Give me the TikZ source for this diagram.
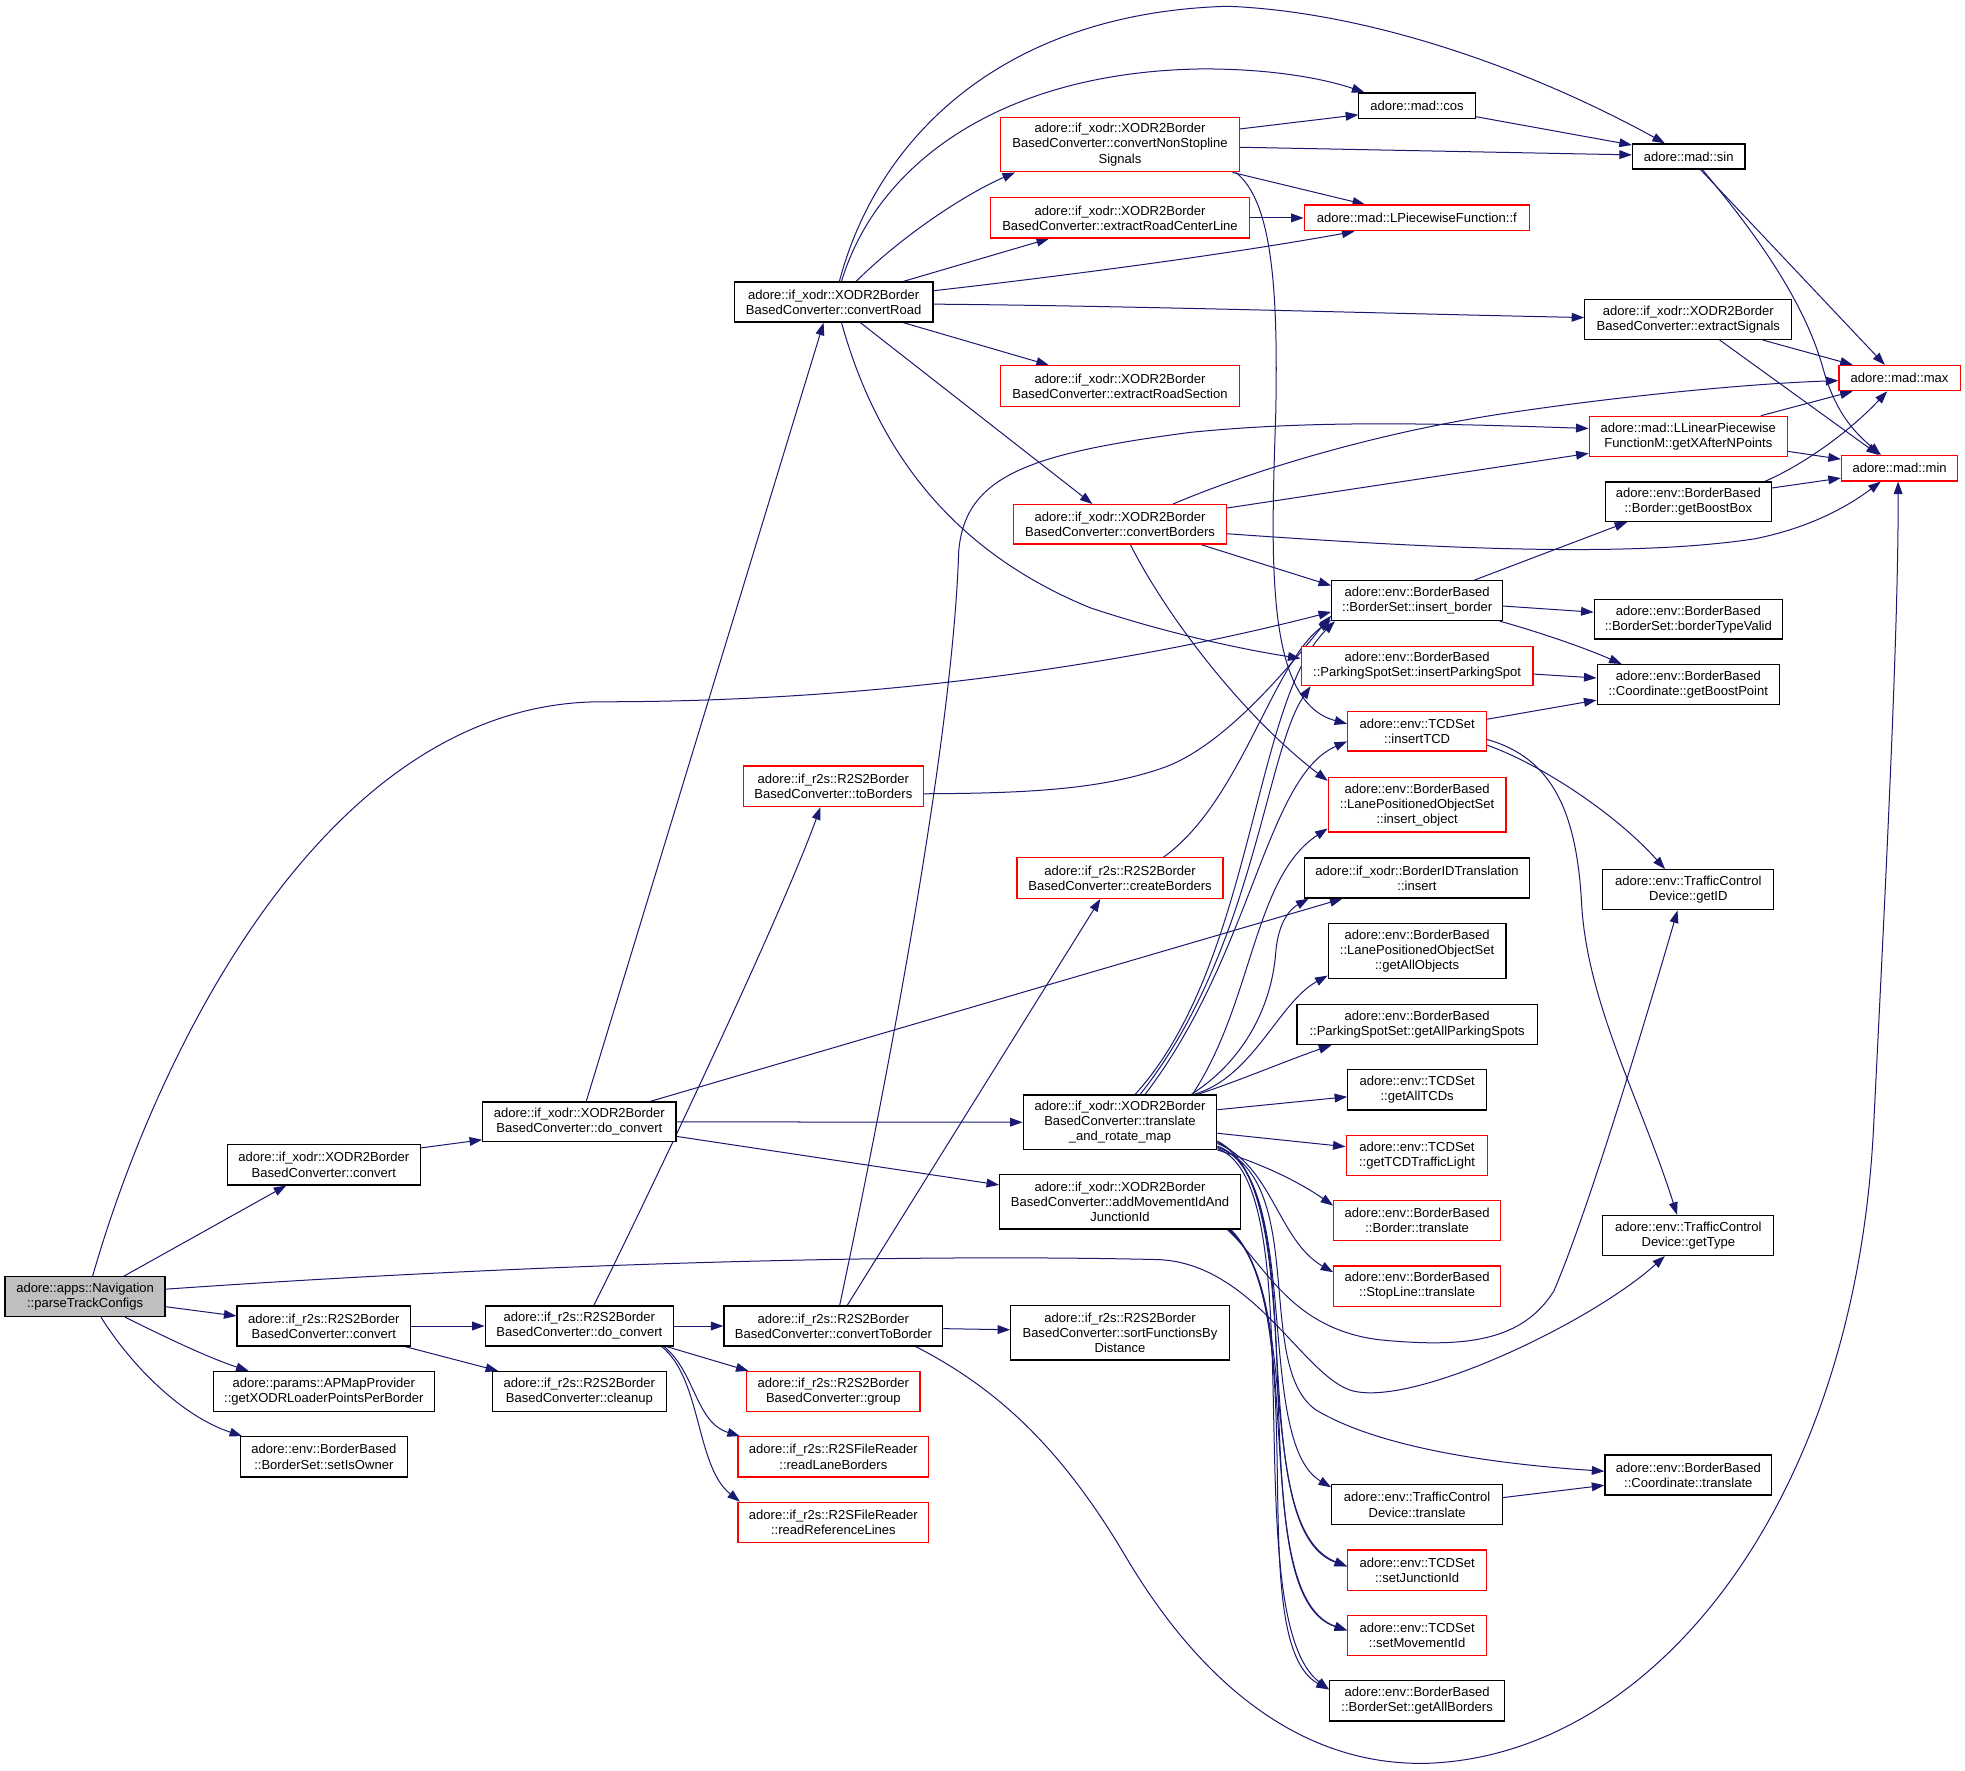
\documentclass[tikz,border=0pt]{standalone}
\usepackage{fontspec}
\setmainfont{Liberation Sans}
\usetikzlibrary{arrows.meta,calc}
\definecolor{edgecol}{HTML}{191970}
\definecolor{nodegray}{HTML}{BFBFBF}
\newcommand\ndfont{\fontsize{10.4}{12}\selectfont}
\pgfdeclarelayer{fg}
\pgfsetlayers{main,fg}
\tikzset{
  nd/.style={draw=black, line width=1pt, fill=white, inner sep=0pt, align=center, font=\ndfont},
  rd/.style={nd, draw=red},
  gd/.style={nd, fill=nodegray},
  edg/.style={draw=edgecol, line width=0.8pt, -{Triangle[length=10pt,width=7pt]}},
}
\begin{document}
\begin{tikzpicture}[x=1pt,y=-1pt]
\fill[white] (0,0) rectangle (1568,1412.4);
\useasboundingbox (0,0) rectangle (1568,1412.4);
\begin{pgfonlayer}{fg}
\node[gd, minimum width=127.7pt, minimum height=31.8pt] (P) at (67.9,1034.7) {adore::apps::Navigation\\::parseTrackConfigs};
\node[nd, minimum width=153.8pt, minimum height=32pt] (xconv) at (258.4,929.5) {adore::if\_xodr::XODR2Border\\BasedConverter::convert};
\node[nd, minimum width=154.2pt, minimum height=31.7pt] (xdo) at (462.3,895.2) {adore::if\_xodr::XODR2Border\\BasedConverter::do\_convert};
\node[nd, minimum width=158.5pt, minimum height=32pt] (road) at (665.2,241) {adore::if\_xodr::XODR2Border\\BasedConverter::convertRoad};
\node[rd, minimum width=190.5pt, minimum height=43.4pt] (cns) at (893.7,115.4) {adore::if\_xodr::XODR2Border\\BasedConverter::convertNonStopline\\Signals};
\node[rd, minimum width=206.2pt, minimum height=32.1pt] (ercl) at (893.7,173.9) {adore::if\_xodr::XODR2Border\\BasedConverter::extractRoadCenterLine};
\node[rd, minimum width=190.5pt, minimum height=32.3pt] (ers) at (893.7,308) {adore::if\_xodr::XODR2Border\\BasedConverter::extractRoadSection};
\node[rd, minimum width=169.6pt, minimum height=31.4pt] (cb) at (893.7,418.4) {adore::if\_xodr::XODR2Border\\BasedConverter::convertBorders};
\node[nd, minimum width=92.8pt, minimum height=20.4pt] (cos) at (1130.7,84.4) {adore::mad::cos};
\node[nd, minimum width=89.7pt, minimum height=20.1pt] (sin) at (1347.5,124.9) {adore::mad::sin};
\node[rd, minimum width=179.7pt, minimum height=20.5pt] (f) at (1130.6,173.9) {adore::mad::LPiecewiseFunction::f};
\node[nd, minimum width=165.1pt, minimum height=31.8pt] (es) at (1347.2,254.9) {adore::if\_xodr::XODR2Border\\BasedConverter::extractSignals};
\node[rd, minimum width=96.8pt, minimum height=20.1pt] (max) at (1515.8,301.7) {adore::mad::max};
\node[rd, minimum width=158.1pt, minimum height=32pt] (gx) at (1347.2,348.2) {adore::mad::LLinearPiecewise\\FunctionM::getXAfterNPoints};
\node[rd, minimum width=92.8pt, minimum height=20.2pt] (min) at (1515.8,373.7) {adore::mad::min};
\node[nd, minimum width=132.6pt, minimum height=31.4pt] (gbb) at (1347.2,400.4) {adore::env::BorderBased\\::Border::getBoostBox};
\node[nd, minimum width=136.3pt, minimum height=31.8pt] (ib) at (1130.8,479.3) {adore::env::BorderBased\\::BorderSet::insert\_border};
\node[nd, minimum width=150.2pt, minimum height=31.5pt] (btv) at (1347.2,494.2) {adore::env::BorderBased\\::BorderSet::borderTypeValid};
\node[rd, minimum width=185.1pt, minimum height=31.4pt] (ips) at (1130.8,531.4) {adore::env::BorderBased\\::ParkingSpotSet::insertParkingSpot};
\node[nd, minimum width=145.5pt, minimum height=32.1pt] (gbp) at (1347.2,546.4) {adore::env::BorderBased\\::Coordinate::getBoostPoint};
\node[rd, minimum width=110.7pt, minimum height=31.4pt] (itcd) at (1130.8,583.6) {adore::env::TCDSet\\::insertTCD};
\node[rd, minimum width=141.8pt, minimum height=43.4pt] (io) at (1130.8,642.1) {adore::env::BorderBased\\::LanePositionedObjectSet\\::insert\_object};
\node[rd, minimum width=144pt, minimum height=32.4pt] (tob) at (665,627.4) {adore::if\_r2s::R2S2Border\\BasedConverter::toBorders};
\node[rd, minimum width=164.3pt, minimum height=32.4pt] (cbr) at (893.7,700.7) {adore::if\_r2s::R2S2Border\\BasedConverter::createBorders};
\node[nd, minimum width=180pt, minimum height=32.1pt] (idt) at (1130.7,700.6) {adore::if\_xodr::BorderIDTranslation\\::insert};
\node[nd, minimum width=136.4pt, minimum height=32pt] (gid) at (1347.2,710) {adore::env::TrafficControl\\Device::getID};
\node[nd, minimum width=141.8pt, minimum height=44pt] (gao) at (1130.8,759) {adore::env::BorderBased\\::LanePositionedObjectSet\\::getAllObjects};
\node[nd, minimum width=191.8pt, minimum height=32.1pt] (gaps) at (1130.8,817.5) {adore::env::BorderBased\\::ParkingSpotSet::getAllParkingSpots};
\node[nd, minimum width=110.7pt, minimum height=32.1pt] (gat) at (1130.8,869.7) {adore::env::TCDSet\\::getAllTCDs};
\node[nd, minimum width=154.5pt, minimum height=43.3pt] (T) at (893.7,895.5) {adore::if\_xodr::XODR2Border\\BasedConverter::translate\\\_and\_rotate\_map};
\node[rd, minimum width=113pt, minimum height=32pt] (gtl) at (1130.7,921.9) {adore::env::TCDSet\\::getTCDTrafficLight};
\node[nd, minimum width=191.9pt, minimum height=43.3pt] (am) at (893.7,959) {adore::if\_xodr::XODR2Border\\BasedConverter::addMovementIdAnd\\JunctionId};
\node[rd, minimum width=133pt, minimum height=31.9pt] (btr) at (1130.8,974) {adore::env::BorderBased\\::Border::translate};
\node[nd, minimum width=136.4pt, minimum height=31.9pt] (gty) at (1347.2,985.8) {adore::env::TrafficControl\\Device::getType};
\node[rd, minimum width=133pt, minimum height=32.1pt] (sltr) at (1130.8,1026.2) {adore::env::BorderBased\\::StopLine::translate};
\node[nd, minimum width=138.4pt, minimum height=31.8pt] (rconv) at (258.4,1058.1) {adore::if\_r2s::R2S2Border\\BasedConverter::convert};
\node[nd, minimum width=150.2pt, minimum height=31.8pt] (rdo) at (462.3,1058.1) {adore::if\_r2s::R2S2Border\\BasedConverter::do\_convert};
\node[nd, minimum width=174.7pt, minimum height=31.8pt] (ctb) at (665,1058.1) {adore::if\_r2s::R2S2Border\\BasedConverter::convertToBorder};
\node[nd, minimum width=174.3pt, minimum height=43.5pt] (sfd) at (893.7,1063.4) {adore::if\_r2s::R2S2Border\\BasedConverter::sortFunctionsBy\\Distance};
\node[nd, minimum width=176.4pt, minimum height=31.9pt] (xlp) at (258.4,1110.4) {adore::params::APMapProvider\\::getXODRLoaderPointsPerBorder};
\node[nd, minimum width=138.5pt, minimum height=31.9pt] (cln) at (462.3,1110.4) {adore::if\_r2s::R2S2Border\\BasedConverter::cleanup};
\node[rd, minimum width=138.4pt, minimum height=31.9pt] (grp) at (665,1110.4) {adore::if\_r2s::R2S2Border\\BasedConverter::group};
\node[nd, minimum width=133.4pt, minimum height=32.1pt] (sio) at (258.4,1162.5) {adore::env::BorderBased\\::BorderSet::setIsOwner};
\node[rd, minimum width=152.2pt, minimum height=32.1pt] (rlb) at (665,1162.5) {adore::if\_r2s::R2SFileReader\\::readLaneBorders};
\node[rd, minimum width=152.2pt, minimum height=32.1pt] (rrl) at (665,1214.8) {adore::if\_r2s::R2SFileReader\\::readReferenceLines};
\node[nd, minimum width=133pt, minimum height=31.9pt] (ctr) at (1347.2,1177) {adore::env::BorderBased\\::Coordinate::translate};
\node[nd, minimum width=136.3pt, minimum height=31.9pt] (tcdtr) at (1130.8,1200.8) {adore::env::TrafficControl\\Device::translate};
\node[rd, minimum width=110.7pt, minimum height=32.1pt] (sji) at (1130.8,1252.9) {adore::env::TCDSet\\::setJunctionId};
\node[rd, minimum width=110.7pt, minimum height=32pt] (smi) at (1130.8,1305) {adore::env::TCDSet\\::setMovementId};
\node[nd, minimum width=139.8pt, minimum height=32.2pt] (gab) at (1130.8,1357.1) {adore::env::BorderBased\\::BorderSet::getAllBorders};
\end{pgfonlayer}

% parseTrackConfigs
\draw[edg] ($(P.north)+(31,0)$) -- ($(xconv.south)+(-30,0)$);
\draw[edg] ($(P.north)+(6,0)$) .. controls (125,840) and (260,560) .. (480,560) .. controls (700,560) and (900,530) .. ($(ib.west)+(0,9)$);
\draw[edg] ($(P.east)+(0,8)$) -- ($(rconv.west)+(0,-8)$);
\draw[edg] ($(P.south)+(32,0)$) .. controls (130,1066) and (165,1083) .. ($(xlp.north)+(-60,0)$);
\draw[edg] ($(P.south)+(12.7,0)$) .. controls (105,1090) and (145,1130) .. ($(sio.north west)+(2,0)$);
\draw[edg] ($(P.east)+(0,-6)$) .. controls (400,1010) and (700,1000) .. (920,1005) .. controls (1000,1005) and (1040,1100) .. (1080,1110) .. controls (1130,1122) and (1270,1055) .. ($(gty.south)+(-18.7,0)$);

% XODR convert / do_convert
\draw[edg] ($(xconv.east)+(0,-13.5)$) -- ($(xdo.west)+(0,14.3)$);
\draw[edg] ($(xdo.north)+(5.5,0)$) -- ($(road.south)+(-8,0)$);
\draw[edg] (xdo.east) -- (T.west);
\draw[edg] ($(xdo.east)+(0,11.6)$) -- ($(am.west)+(0,-13.5)$);
\draw[edg] ($(xdo.north east)+(-21,0)$) -- ($(idt.south west)+(31,0)$);

% convertRoad
\draw[edg] ($(road.north)+(6.3,0)$) .. controls (700,130) and (800,57) .. (960,55) .. controls (1020,55) and (1060,64) .. ($(cos.north west)+(5,0)$);
\draw[edg] ($(road.north)+(4.6,0)$) .. controls (700,110) and (800,10) .. (980,5) .. controls (1100,10) and (1230,60) .. ($(sin.north)+(-19,0)$);
\draw[edg] ($(road.north)+(18,0)$) .. controls (720,188) and (770,155) .. ($(cns.south west)+(12,0)$);
\draw[edg] ($(road.north east)+(-24,0)$) -- ($(ercl.south west)+(47,0)$);
\draw[edg] ($(road.east)+(0,-9)$) .. controls (850,220) and (980,203) .. ($(f.south west)+(40.6,0)$);
\draw[edg] ($(road.east)+(0,1.7)$) .. controls (900,244) and (1100,250) .. ($(es.west)+(0,-1.5)$);
\draw[edg] ($(road.south east)+(-24,0)$) -- ($(ers.north west)+(39,0)$);
\draw[edg] ($(road.south)+(21.4,0)$) -- ($(cb.north)+(-22,0)$);
\draw[edg] ($(road.south)+(6.3,0)$) .. controls (700,360) and (760,440) .. (870,485) .. controls (930,505) and (990,518) .. ($(ips.west)+(0,-6)$);

% convertNonStoplineSignals
\draw[edg] ($(cns.east)+(0,-12.5)$) -- ($(cos.west)+(0,7.2)$);
\draw[edg] ($(cns.east)+(0,2.1)$) -- ($(sin.west)+(0,-1.3)$);
\draw[edg] ($(cns.south east)+(-6,0)$) -- ($(f.north west)+(49,0)$);
\draw[edg] ($(cns.south east)+(-3.4,0)$) .. controls (1015,160) and (1020,230) .. (1018,330) .. controls (1014,450) and (1010,560) .. ($(itcd.west)+(0,-6)$);

\draw[edg] (ercl.east) -- (f.west);
\draw[edg] ($(cos.east)+(0,8.7)$) -- ($(sin.west)+(0,-9.2)$);

% mad
\draw[edg] ($(sin.south)+(9.5,0)$) -- ($(max.north)+(-11.8,0)$);
\draw[edg] ($(sin.south)+(11,0)$) .. controls (1400,185) and (1440,240) .. (1455,295) .. controls (1465,330) and (1480,345) .. ($(min.north)+(-14.9,0)$);
\draw[edg] ($(es.south east)+(-23.8,0)$) -- ($(max.north west)+(11.5,0)$);
\draw[edg] ($(es.south)+(25,0)$) -- ($(min.north)+(-16.6,0)$);
\draw[edg] ($(gx.north east)+(-21.6,0)$) -- ($(max.south west)+(11.5,0)$);
\draw[edg] ($(gx.east)+(0,12)$) -- ($(min.west)+(0,-7.3)$);
\draw[edg] ($(gbb.north east)+(-5.8,0)$) .. controls (1445,368) and (1480,340) .. ($(max.south)+(-9.9,0)$);
\draw[edg] ($(gbb.east)+(0,-11)$) -- ($(min.west)+(0,7.8)$);

% convertBorders
\draw[edg] ($(cb.north east)+(-43,0)$) .. controls (1000,375) and (1100,345) .. (1200,330) .. controls (1300,315) and (1400,306) .. ($(max.west)+(0,2)$);
\draw[edg] ($(cb.east)+(0,-13)$) -- ($(gx.west)+(0,13.6)$);
\draw[edg] ($(cb.east)+(0,7.5)$) .. controls (1150,438) and (1300,445) .. (1400,430) .. controls (1450,420) and (1480,400) .. ($(min.south)+(-15,0)$);
\draw[edg] ($(cb.south east)+(-20.6,0)$) -- ($(ib.west)+(0,-12)$);
\draw[edg] ($(cb.south)+(8.3,0)$) .. controls (930,490) and (990,570) .. ($(io.west)+(0,-19)$);

% convertToBorder
\draw[edg] ($(ctb.north)+(5,0)$) .. controls (700,900) and (760,600) .. (765,440) .. controls (770,380) and (820,362) .. (950,345) .. controls (1050,335) and (1150,338) .. ($(gx.west)+(0,-6.3)$);
\draw[edg] ($(ctb.north)+(11,0)$) -- ($(cbr.south)+(-15.7,0)$);
\draw[edg] ($(ctb.east)+(0,2.1)$) -- ($(sfd.west)+(0,-2.3)$);
\draw[edg] ($(ctb.south east)+(-22.2,0)$) .. controls (800,1110) and (850,1160) .. (900,1245) .. controls (960,1345) and (1040,1410) .. (1140,1407) .. controls (1320,1400) and (1480,1200) .. (1495,900) .. controls (1505,700) and (1515,500) .. ($(min.south)+(-1.2,0)$);

% insert_border etc.
\draw[edg] ($(ib.north east)+(-23,0)$) -- ($(gbb.south west)+(18,0)$);
\draw[edg] ($(ib.east)+(0,4.3)$) -- ($(btv.west)+(0,-5.7)$);
\draw[edg] ($(ib.south east)+(-2.7,0)$) .. controls (1220,502) and (1260,515) .. ($(gbp.north west)+(20,0)$);
\draw[edg] ($(ips.east)+(0,6.5)$) -- ($(gbp.west)+(0,-5.4)$);
\draw[edg] ($(itcd.east)+(0,-9.7)$) -- ($(gbp.west)+(0,12.3)$);
\draw[edg] ($(itcd.east)+(0,11)$) .. controls (1230,610) and (1290,650) .. ($(gid.north)+(-18.6,0)$);
\draw[edg] ($(itcd.east)+(0,6.5)$) .. controls (1240,605) and (1258,650) .. (1262,720) .. controls (1266,800) and (1310,880) .. ($(gty.north)+(-9,0)$);
\draw[edg] ($(tcdtr.east)+(0,-5.8)$) -- ($(ctr.west)+(0,8.2)$);

% R2S
\draw[edg] (rconv.east) -- (rdo.west);
\draw[edg] ($(rconv.south east)+(-5,0)$) -- ($(cln.north west)+(5,0)$);
\draw[edg] (rdo.east) -- (ctb.west);
\draw[edg] ($(rdo.north)+(11.5,0)$) .. controls (500,990) and (620,740) .. ($(tob.south)+(-10.3,0)$);
\draw[edg] ($(rdo.south east)+(-6,0)$) -- ($(grp.north west)+(2,0)$);
\draw[edg] ($(rdo.south east)+(-8,0)$) .. controls (555,1095) and (555,1135) .. ($(rlb.north west)+(2,0)$);
\draw[edg] ($(rdo.south east)+(-10,0)$) .. controls (560,1100) and (555,1170) .. ($(rrl.north west)+(2,0)$);
\draw[edg] ($(tob.east)+(0,6)$) .. controls (820,633) and (880,630) .. (930,612) .. controls (980,593) and (1030,530) .. ($(ib.west)+(0,12)$);
\draw[edg] ($(cbr.north)+(34.7,0)$) .. controls (990,640) and (1015,530) .. ($(ib.south west)+(0,-1)$);

% translate_and_rotate_map
\draw[edg] ($(T.north)+(12,0)$) .. controls (1000,770) and (1000,560) .. ($(ib.south west)+(3,0)$);
\draw[edg] ($(T.north)+(16,0)$) .. controls (1000,760) and (1010,600) .. ($(ips.south west)+(8,0)$);
\draw[edg] ($(T.north)+(20,0)$) .. controls (1000,760) and (1010,620) .. ($(itcd.west)+(0,8)$);
\draw[edg] ($(T.north east)+(-20,0)$) .. controls (1000,800) and (1000,700) .. ($(io.west)+(0,19)$);
\draw[edg] ($(T.north east)+(-21,0)$) .. controls (995,845) and (1015,800) .. (1018,760) .. controls (1020,735) and (1030,725) .. ($(idt.south west)+(4,0)$);
\draw[edg] ($(T.north east)+(-19,0)$) .. controls (1000,860) and (1020,800) .. ($(gao.south west)+(0,-3)$);
\draw[edg] ($(T.north east)+(-16,0)$) .. controls (990,862) and (1030,845) .. ($(gaps.south west)+(28,0)$);
\draw[edg] ($(T.east)+(0,-10)$) -- ($(gat.west)+(0,5.5)$);
\draw[edg] ($(T.east)+(0,8.8)$) -- ($(gtl.west)+(0,-6.9)$);
\draw[edg] (T.south east) .. controls (1005,928) and (1035,942) .. ($(btr.west)+(0,-12)$);
\draw[edg] ($(T.east)+(0,17)$) .. controls (1015,930) and (1020,990) .. ($(sltr.west)+(0,-11)$);
\draw[edg] ($(T.east)+(0,19)$) .. controls (1040,940) and (1000,1150) .. ($(tcdtr.west)+(0,-14)$);
\draw[edg] ($(T.east)+(0,20)$) .. controls (1045,942) and (1000,1090) .. (1050,1125) .. controls (1100,1155) and (1190,1168) .. ($(ctr.west)+(0,-3)$);
\draw[edg] ($(T.east)+(0,21)$) .. controls (1050,945) and (985,1290) .. ($(gab.west)+(0,-9)$);
\draw[edg] ($(T.east)+(0,15)$) .. controls (1048,950) and (990,1220) .. ($(sji.west)+(0,-3)$);
\draw[edg] ($(T.east)+(0,16)$) .. controls (1055,950) and (985,1270) .. ($(smi.west)+(0,-4)$);

% addMovementIdAndJunctionId
\draw[edg] ($(am.south east)+(-10.7,0)$) .. controls (1010,1010) and (1030,1060) .. (1100,1069) .. controls (1170,1076) and (1215,1070) .. (1240,1030) .. controls (1270,960) and (1320,790) .. ($(gid.south)+(-8.6,0)$);
\draw[edg] ($(am.south east)+(-10,0)$) .. controls (1040,1030) and (1000,1220) .. ($(sji.west)+(0,-3)$);
\draw[edg] ($(am.south east)+(-9,0)$) .. controls (1045,1040) and (995,1275) .. ($(smi.west)+(0,-4)$);
\draw[edg] ($(am.south east)+(-8,0)$) .. controls (1050,1050) and (990,1310) .. ($(gab.west)+(0,-9)$);
\end{tikzpicture}
\end{document}
